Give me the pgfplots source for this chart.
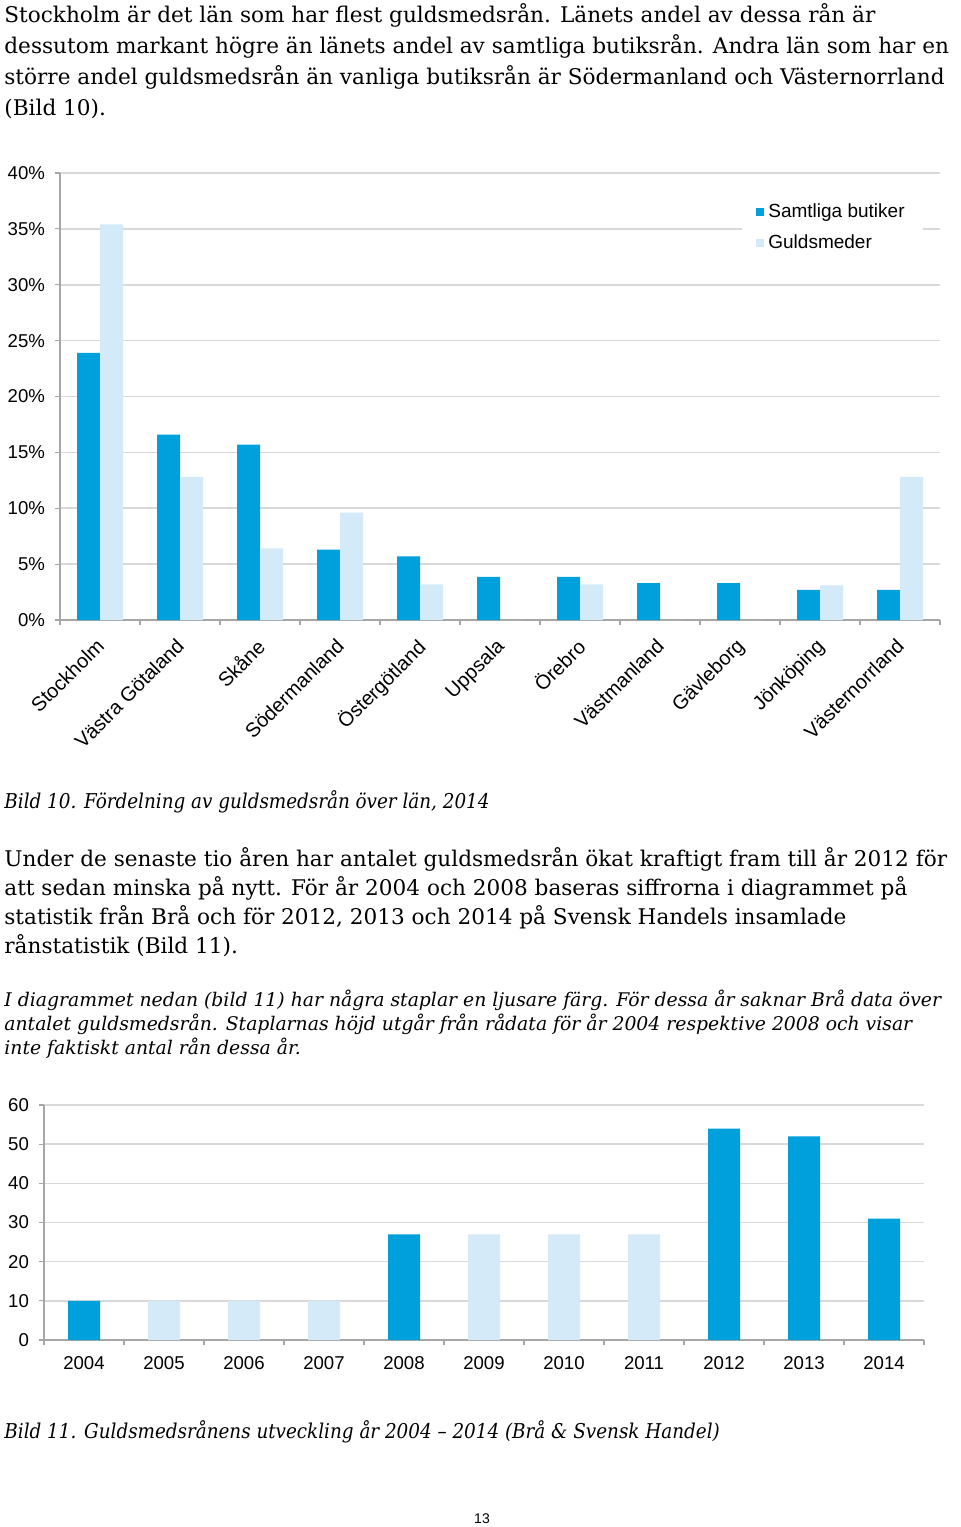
\documentclass[border=0pt]{standalone}
\usepackage{fontspec}
\setmainfont{DejaVu Serif}
\newfontfamily\cond{DejaVu Serif Condensed}
\newfontfamily\arial{Liberation Sans}
\usepackage{pgfplots}
\pgfplotsset{compat=1.18}

\definecolor{dark}{HTML}{00A0DC}
\definecolor{light}{HTML}{D5EAF8}
\definecolor{gridc}{HTML}{D9D9D9}
\definecolor{axisc}{HTML}{A6A6A6}

\pgfplotsset{
  sida/.style={
    scale only axis, width=440pt,
    xmin=-0.5, xmax=10.5, ymin=0,
    axis lines*=left,
    axis line style={axisc, line width=0.8pt},
    ymajorgrids, grid style={gridc, line width=0.8pt},
    xtick={0,...,10},
    minor xtick={-0.5,0.5,...,10.5},
    major x tick style={draw=none},
    minor x tick style={axisc, line width=0.6pt},
    ytick style={axisc, line width=0.6pt},
    tick align=outside,
    major tick length=2.5pt, minor tick length=2.5pt,
    ticklabel style={font=\arial\fontsize{9.3}{11}\selectfont},
    yticklabel style={xshift=-1.5pt},
    /pgf/number format/assume math mode=true,
  },
  fyrk/.style={legend image code/.code={\fill[##1] (0pt,-2pt) rectangle (4pt,2pt);}},
}

\begin{document}
\begin{tikzpicture}
% 1 px of the page = 0.5pt
\useasboundingbox[fill=white] (0pt,0pt) rectangle (480pt,-763.5pt);

\begin{scope}[x=0.5pt, y=-0.5pt]
\tikzset{brod/.style={anchor=base west, inner sep=0pt, font=\fontsize{10.8}{13}\selectfont},
         kurs/.style={anchor=base west, inner sep=0pt, font=\itshape\fontsize{9.4}{12}\selectfont},
         bild/.style={anchor=base west, inner sep=0pt, font=\cond\itshape\fontsize{10.2}{12}\selectfont}}
\node[brod] at (4,22)  {Stockholm är det län som har flest guldsmedsrån. Länets andel av dessa rån är};
\node[brod] at (4,53)  {dessutom markant högre än länets andel av samtliga butiksrån. Andra län som har en};
\node[brod] at (4,84)  {större andel guldsmedsrån än vanliga butiksrån är Södermanland och Västernorrland};
\node[brod] at (4,115) {(Bild 10).};

\node[bild] at (4,808) {Bild 10. Fördelning av guldsmedsrån över län, 2014};

\node[brod] at (4,866) {Under de senaste tio åren har antalet guldsmedsrån ökat kraftigt fram till år 2012 för};
\node[brod] at (4,895) {att sedan minska på nytt. För år 2004 och 2008 baseras siffrorna i diagrammet på};
\node[brod] at (4,924) {statistik från Brå och för 2012, 2013 och 2014 på Svensk Handels insamlade};
\node[brod] at (4,953) {rånstatistik (Bild 11).};

\node[kurs] at (4,1006) {I diagrammet nedan (bild 11) har några staplar en ljusare färg. För dessa år saknar Brå data över};
\node[kurs] at (4,1030) {antalet guldsmedsrån. Staplarnas höjd utgår från rådata för år 2004 respektive 2008 och visar};
\node[kurs] at (4,1054) {inte faktiskt antal rån dessa år.};

\node[bild] at (4,1438) {Bild 11. Guldsmedsrånens utveckling år 2004 – 2014 (Brå \& Svensk Handel)};

\node[font=\arial\fontsize{7}{8}\selectfont, inner sep=0pt] at (482,1519) {13};
\end{scope}

% Bild 10
\begin{axis}[sida, ybar=0pt, bar width=11.5pt,
  at={(30pt,-310pt)}, anchor=south west, height=223.5pt,
  ymax=40, ytick={0,5,...,40},
  yticklabel={\pgfmathprintnumber{\tick}\%},
  xticklabels={Stockholm, Västra Götaland, Skåne, Södermanland, Östergötland, Uppsala,
               Örebro, Västmanland, Gävleborg, Jönköping, Västernorrland},
  xticklabel style={rotate=45, anchor=north east, xshift=-2.5pt, yshift=1pt,
                    font=\arial\fontsize{10}{12}\selectfont},
  legend style={at={(0.775,0.96)}, anchor=north west, draw=none, fill=white,
    font=\arial\fontsize{9.5}{11}\selectfont, row sep=3.5pt, inner xsep=7pt, inner ysep=4pt},
  legend cell align=left,
]
\addplot[fill=dark, draw=none, fyrk] coordinates {
  (0,23.9) (1,16.6) (2,15.7) (3,6.3) (4,5.7) (5,3.85) (6,3.85) (7,3.3) (8,3.3) (9,2.7) (10,2.7)};
\addplot[fill=light, draw=none, fyrk] coordinates {
  (0,35.4) (1,12.8) (2,6.4) (3,9.6) (4,3.2) (5,0) (6,3.2) (7,0) (8,0) (9,3.1) (10,12.8)};
\legend{Samtliga butiker, Guldsmeder}
\end{axis}

% Bild 11
\begin{axis}[sida, ybar, bar width=16pt,
  at={(22pt,-670pt)}, anchor=south west, height=117.5pt,
  ymax=60, ytick={0,10,...,60},
  xticklabels={2004,2005,2006,2007,2008,2009,2010,2011,2012,2013,2014},
  xticklabel style={yshift=-2pt},
]
\addplot[fill=dark, draw=none, bar shift=0pt] coordinates {
  (0,10) (4,27) (8,54) (9,52) (10,31)};
\addplot[fill=light, draw=none, bar shift=0pt] coordinates {
  (1,10) (2,10) (3,10) (5,27) (6,27) (7,27)};
\end{axis}
\end{tikzpicture}
\end{document}
